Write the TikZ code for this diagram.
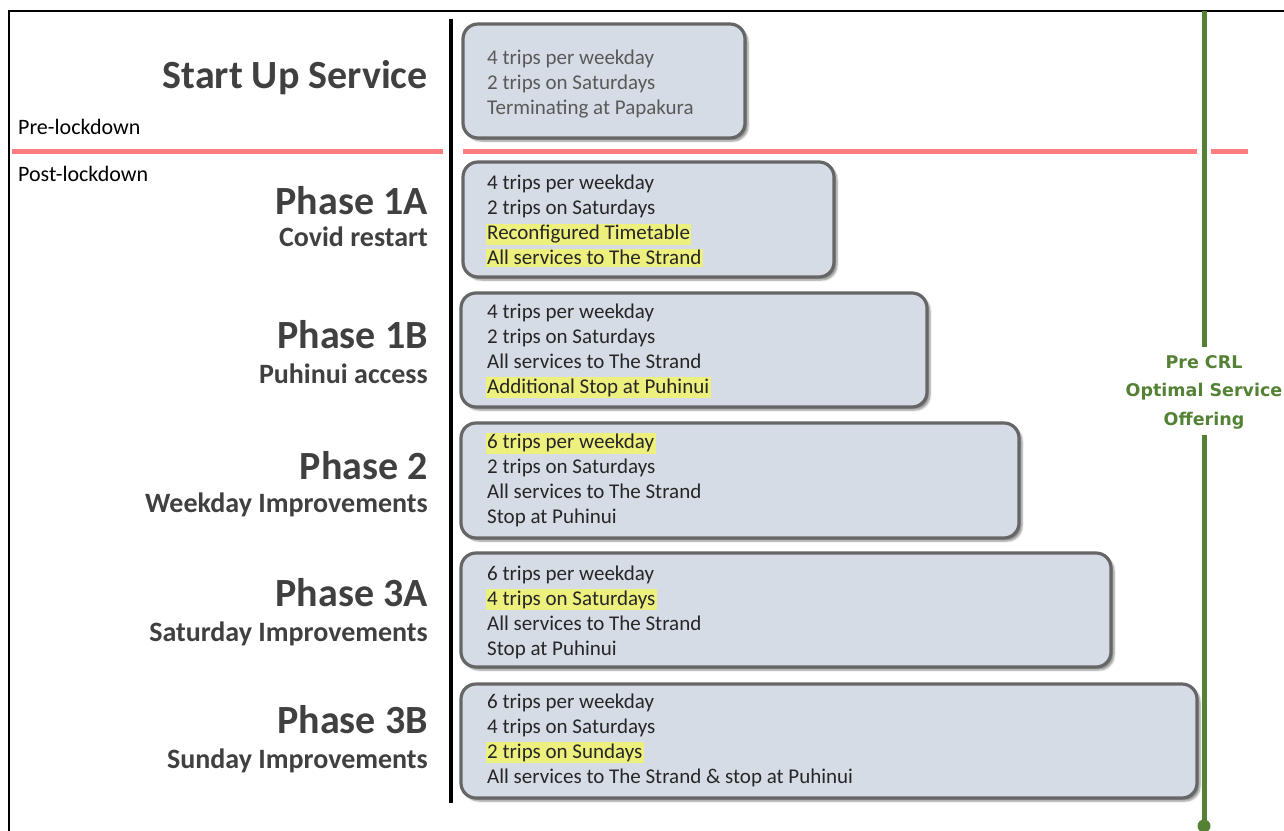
\documentclass[tikz,border=0pt]{standalone}
\usepackage{fontspec}
\setmainfont{Carlito}
\newfontfamily\greenfont{DejaVu Sans}
\usetikzlibrary{shadows.blur}
\definecolor{boxfill}{HTML}{D6DCE5}
\definecolor{boxedge}{HTML}{666666}
\definecolor{redline}{HTML}{FF7C80}
\definecolor{greenline}{HTML}{548235}
\definecolor{labelgray}{HTML}{404040}
\definecolor{boxtextc}{HTML}{262626}
\definecolor{startgray}{HTML}{595959}
\definecolor{hly}{HTML}{EEF07E}
\newcommand\hl[1]{{\setlength{\fboxsep}{1.5pt}\hspace*{-1.5pt}\colorbox{hly}{#1}\hspace*{-1.5pt}}}
\tikzset{
  stagebox/.style={draw=boxedge, line width=3.2pt, fill=boxfill, rounded corners=15pt,
    blur shadow={shadow xshift=3pt, shadow yshift=-3pt, shadow blur steps=6, shadow opacity=45}},
  boxtext/.style={anchor=west, align=left, inner sep=0pt, text=boxtextc,
    font=\fontsize{21}{25}\selectfont},
  phasetitle/.style={anchor=base east, inner sep=0pt, text=labelgray,
    font=\fontsize{40}{41}\selectfont\bfseries},
  phasesub/.style={anchor=base east, inner sep=0pt, text=labelgray,
    font=\fontsize{28}{29}\selectfont\bfseries},
  sidelabel/.style={anchor=base west, inner sep=0pt, text=black,
    font=\fontsize{22}{24}\selectfont},
  redsep/.style={draw=redline, line width=5pt},
  greentext/.style={align=center, inner sep=0pt, text=greenline,
    font=\fontsize{17.5}{28.5}\selectfont\greenfont\bfseries},
}
\begin{document}
\begin{tikzpicture}[x=1pt, y=-1pt]
\useasboundingbox (0,0) rectangle (1284,830);
% frame
\draw[line width=2pt] (9,832) -- (9,11) -- (1286,11);
% red separator
\coordinate (r1a) at (12,151);
\coordinate (r1b) at (443,151);
\coordinate (r2a) at (463,151);
\coordinate (r2b) at (1197,151);
\coordinate (r3a) at (1211,151);
\coordinate (r3b) at (1248,151);
\draw[redsep] (r1a) -- (r1b);
\draw[redsep] (r2a) -- (r2b);
\draw[redsep] (r3a) -- (r3b);
% vertical black line
\coordinate (vtop) at (451,19);
\coordinate (vbot) at (451,803);
\draw[line width=3.5pt] (vtop) -- (vbot);
% green line
\node[greentext] (crl) at (1204,392) {Pre CRL\\Optimal Service\\Offering};
\coordinate (gtop) at (1204,11);
\coordinate (gbot) at (1204,826);
\draw[greenline, line width=5pt] (gtop) -- ([yshift=8pt]crl.north -| gtop);
\draw[greenline, line width=5pt] ([yshift=-6pt]crl.south -| gbot) -- (gbot);
\fill[greenline] (gbot) circle (6.5pt);
% boxes
\path[stagebox] (463,24) rectangle (745,138) coordinate (b1);
\path[stagebox] (463,162) rectangle (834,277) coordinate (b2);
\path[stagebox] (461,293) rectangle (927,407) coordinate (b3);
\path[stagebox] (461,423) rectangle (1019,538) coordinate (b4);
\path[stagebox] (461,553) rectangle (1111,667) coordinate (b5);
\path[stagebox] (461,684) rectangle (1197,798) coordinate (b6);
% box texts
\node[boxtext, text=startgray] (t1) at (487,84) {4 trips per weekday\\2 trips on Saturdays\\Terminating at Papakura};
\node[boxtext] (t2) at (487,221) {4 trips per weekday\\2 trips on Saturdays\\\hl{Reconfigured Timetable}\\\hl{All services to The Strand}};
\node[boxtext] (t3) at (487,351) {4 trips per weekday\\2 trips on Saturdays\\All services to The Strand\\\hl{Additional Stop at Puhinui}};
\node[boxtext] (t4) at (487,480) {\hl{6 trips per weekday}\\2 trips on Saturdays\\All services to The Strand\\Stop at Puhinui};
\node[boxtext] (t5) at (487,612) {6 trips per weekday\\\hl{4 trips on Saturdays}\\All services to The Strand\\Stop at Puhinui};
\node[boxtext] (t6) at (487,740) {6 trips per weekday\\4 trips on Saturdays\\\hl{2 trips on Sundays}\\All services to The Strand \& stop at Puhinui};
% left labels
\node[sidelabel] (pre) at (18,134) {Pre-lockdown};
\node[sidelabel] (post) at (18,181) {Post-lockdown};
\node[phasetitle] (s0) at (428,88) {Start Up Service};
\node[phasetitle] (p1a) at (428,214) {Phase 1A};
\node[phasesub] (p1as) at (428,246) {Covid restart};
\node[phasetitle] (p1b) at (428,348) {Phase 1B};
\node[phasesub] (p1bs) at (428,383) {Puhinui access};
\node[phasetitle] (p2) at (428,479) {Phase 2};
\node[phasesub] (p2s) at (428,512) {Weekday Improvements};
\node[phasetitle] (p3a) at (428,606) {Phase 3A};
\node[phasesub] (p3as) at (428,641) {Saturday Improvements};
\node[phasetitle] (p3b) at (428,733) {Phase 3B};
\node[phasesub] (p3bs) at (428,768) {Sunday Improvements};
\end{tikzpicture}
\end{document}
